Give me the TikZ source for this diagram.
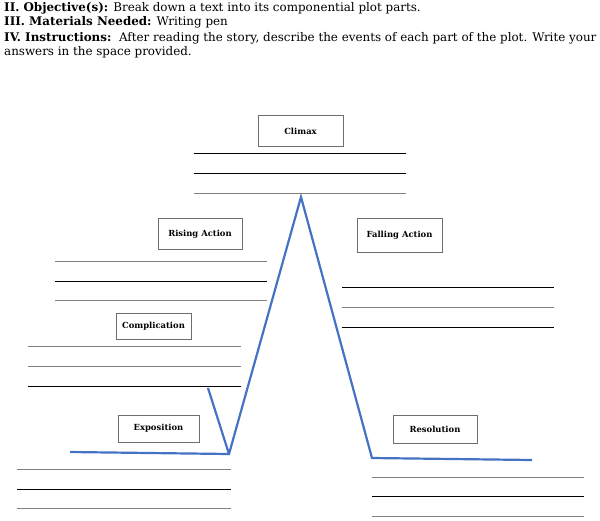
\documentclass[tikz,border=0pt]{standalone}
\usepackage{fontspec}
\setmainfont{DejaVu Serif}
\definecolor{plotblue}{RGB}{68,114,196}
\definecolor{boxgray}{RGB}{110,110,110}
\tikzset{
    partbox/.style={draw=boxgray, line width=0.7pt, minimum height=31pt,
        font=\fontsize{8.4}{9}\selectfont\bfseries},
    header/.style={anchor=base west, inner sep=0pt, font=\fontsize{11.9}{13}\selectfont},
    blackline/.style={line width=0.8pt, black},
    grayline/.style={line width=0.7pt, black!50},
    arc/.style={plotblue, line width=2.2pt, line join=miter}
}
\begin{document}
\begin{tikzpicture}[x=1pt, y=-1pt]
    \useasboundingbox (0,0) rectangle (600,520);

    % Heading
    \node[header] (obj) at (4,11) {\textbf{II. Objective(s):} Break down a text into its componential plot parts.};
    \node[header] (mat) at (4,25) {\textbf{III. Materials Needed:} Writing pen};
    \node[header] (ins) at (4,41) {\textbf{IV. Instructions:}\ \ After reading the story, describe the events of each part of the plot. Write your};
    \node[header] (ans) at (4,55) {answers in the space provided.};

    % Plot line
    \coordinate (start) at (70,452);
    \coordinate (low) at (229,454);
    \coordinate (tick) at (208,388);
    \coordinate (peak) at (301,197);
    \coordinate (fall) at (372,458);
    \coordinate (end) at (532,460);
    \draw[arc] (start) -- (low) -- (peak) -- (fall) -- (end);
    \draw[arc] (tick) -- (low);

    % Boxes
    \node[partbox, minimum width=85pt] (climax) at (300.5,131) {Climax};
    \node[partbox, minimum width=84pt] (rising) at (200,234) {Rising Action};
    \node[partbox, minimum width=85pt, minimum height=34pt] (falling) at (399.5,235.5) {Falling Action};
    \node[partbox, minimum width=75pt, minimum height=26pt] (compl) at (153.5,326) {Complication};
    \node[partbox, minimum width=81pt, minimum height=27pt] (expo) at (158.5,428.5) {Exposition};
    \node[partbox, minimum width=84pt, minimum height=28pt] (resol) at (435,429) {Resolution};

    % Answer lines
    \draw[blackline] (194,153) -- (406,153);
    \draw[blackline] (194,173) -- (406,173);
    \draw[grayline]  (194,193) -- (406,193);

    \draw[grayline]  (55,261) -- (267,261);
    \draw[blackline] (55,281) -- (267,281);
    \draw[grayline]  (55,300) -- (267,300);

    \draw[blackline] (342,287) -- (554,287);
    \draw[grayline]  (342,307) -- (554,307);
    \draw[blackline] (342,327) -- (554,327);

    \draw[grayline]  (28,346) -- (241,346);
    \draw[grayline]  (28,366) -- (241,366);
    \draw[blackline] (28,386) -- (241,386);

    \draw[grayline]  (17,469) -- (231,469);
    \draw[blackline] (17,489) -- (231,489);
    \draw[grayline]  (17,508) -- (231,508);

    \draw[grayline]  (372,477) -- (584,477);
    \draw[blackline] (372,496) -- (584,496);
    \draw[grayline]  (372,516) -- (584,516);
\end{tikzpicture}
\end{document}
